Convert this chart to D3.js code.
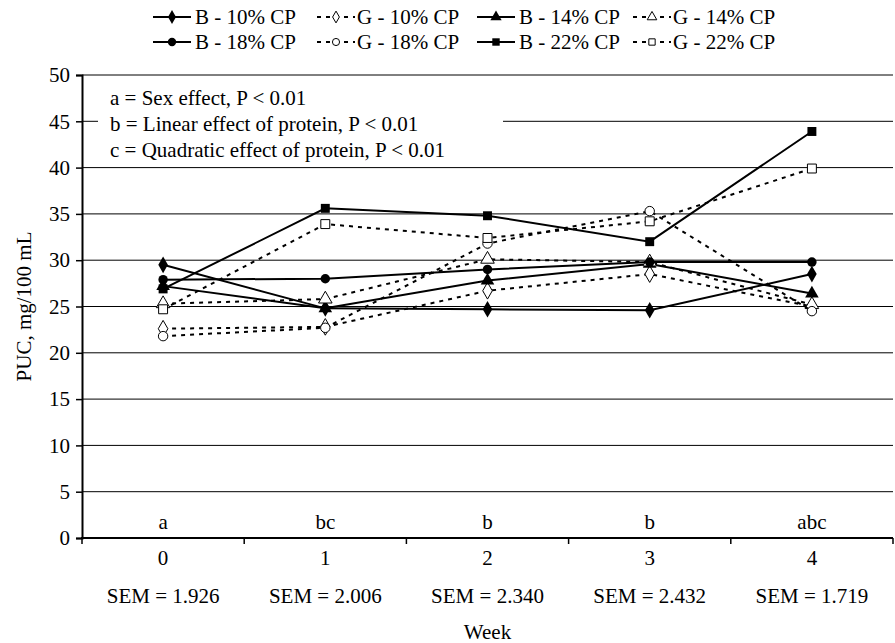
<!DOCTYPE html>
<html>
<head>
<meta charset="utf-8">
<script src="https://cdn.jsdelivr.net/npm/d3@7"></script>
<style>
  body { margin: 0; background: #fff; }
  svg { display: block; }
  text { font-family: "Liberation Serif", "DejaVu Serif", serif; fill: #000; }
</style>
</head>
<body>
<svg id="chart" width="895" height="643"></svg>
<script>
// week categories and labels under the axis
const weeks = ["0", "1", "2", "3", "4"];
const effectLabels = ["a", "bc", "b", "b", "abc"];
const semLabels = ["SEM = 1.926", "SEM = 2.006", "SEM = 2.340", "SEM = 2.432", "SEM = 1.719"];
const yTicks = [0, 5, 10, 15, 20, 25, 30, 35, 40, 45, 50];
const notes = [
  "a = Sex effect, P < 0.01",
  "b = Linear effect of protein, P < 0.01",
  "c = Quadratic effect of protein, P < 0.01"
];

// PUC values, mg/100 mL
const b10 = [29.5, 24.8, 24.7, 24.6, 28.5];
const g10 = [22.6, 22.8, 26.7, 28.5, 25.0];
const b14 = [27.2, 24.8, 27.8, 29.6, 26.4];
const g14 = [25.3, 25.8, 30.1, 29.8, 25.2];
const b18 = [27.9, 28.0, 29.0, 29.8, 29.8];
const g18 = [21.8, 22.7, 31.8, 35.3, 24.5];
const b22 = [26.9, 35.6, 34.8, 32.0, 43.9];
const g22 = [24.7, 33.9, 32.4, 34.2, 39.9];

const series = [
  { name: "B - 10% CP", values: b10, shape: d3.symbolDiamond, boy: true },
  { name: "G - 10% CP", values: g10, shape: d3.symbolDiamond, boy: false },
  { name: "B - 14% CP", values: b14, shape: d3.symbolTriangle, boy: true },
  { name: "G - 14% CP", values: g14, shape: d3.symbolTriangle, boy: false },
  { name: "B - 18% CP", values: b18, shape: d3.symbolCircle, boy: true },
  { name: "G - 18% CP", values: g18, shape: d3.symbolCircle, boy: false },
  { name: "B - 22% CP", values: b22, shape: d3.symbolSquare, boy: true },
  { name: "G - 22% CP", values: g22, shape: d3.symbolSquare, boy: false }
];

const svg = d3.select("#chart");
let mLeft = 82, mRight = 893, mTop = 75, mBottom = 538;
let fs = 21;

let x = d3.scaleBand().domain(weeks).range([mLeft, mRight]);
let y = d3.scaleLinear().domain([0, 50]).range([mBottom, mTop]);

// gridlines
svg.append("g")
  .selectAll("line")
  .data(yTicks.filter((d) => d > 0))
  .enter()
  .append("line")
  .attr("x1", mLeft).attr("x2", mRight)
  .attr("y1", (d) => y(d)).attr("y2", (d) => y(d))
  .attr("stroke", "#000").attr("stroke-width", 1);

// note box covers the gridline behind it
svg.append("rect")
  .attr("x", 98).attr("y", 80).attr("width", 405).attr("height", 82)
  .attr("fill", "#fff");
svg.append("g")
  .selectAll("text")
  .data(notes)
  .enter()
  .append("text")
  .attr("x", 110)
  .attr("y", (d, i) => 105 + i * 26)
  .attr("font-size", fs)
  .text((d) => d);

// y axis
let yAxis = d3.axisLeft(y).tickValues(yTicks).tickSize(6).tickPadding(6);
let gy = svg.append("g").attr("transform", `translate(${mLeft},0)`).call(yAxis);
gy.select(".domain").attr("stroke-width", 2);
gy.selectAll(".tick line").attr("stroke-width", 1.5);
gy.selectAll("text").attr("font-size", fs).attr("font-family", "Liberation Serif");

// x axis: ticks sit between the weeks
svg.append("line")
  .attr("x1", mLeft - 1).attr("x2", mRight)
  .attr("y1", mBottom).attr("y2", mBottom)
  .attr("stroke", "#000").attr("stroke-width", 2);
svg.append("g")
  .selectAll("line")
  .data(d3.range(weeks.length + 1))
  .enter()
  .append("line")
  .attr("x1", (i) => mLeft + i * x.step()).attr("x2", (i) => mLeft + i * x.step())
  .attr("y1", mBottom).attr("y2", mBottom + 6)
  .attr("stroke", "#000").attr("stroke-width", 1.5);

let cx = (w) => x(w) + x.bandwidth() / 2;

svg.append("g").selectAll("text").data(weeks).enter().append("text")
  .attr("x", cx).attr("y", 565).attr("text-anchor", "middle").attr("font-size", fs)
  .text((d) => d);
svg.append("g").selectAll("text").data(effectLabels).enter().append("text")
  .attr("x", (d, i) => cx(weeks[i])).attr("y", 529).attr("text-anchor", "middle").attr("font-size", fs)
  .text((d) => d);
svg.append("g").selectAll("text").data(semLabels).enter().append("text")
  .attr("x", (d, i) => cx(weeks[i])).attr("y", 603).attr("text-anchor", "middle").attr("font-size", fs)
  .text((d) => d);

svg.append("text")
  .attr("x", (mLeft + mRight) / 2).attr("y", 639).attr("text-anchor", "middle").attr("font-size", fs)
  .text("Week");
svg.append("text")
  .attr("transform", `translate(31,${(mTop + mBottom) / 2}) rotate(-90)`)
  .attr("text-anchor", "middle").attr("font-size", fs)
  .text("PUC, mg/100 mL");

// series
let line = d3.line().x((d, i) => cx(weeks[i])).y((d) => y(d));

series.forEach((s) => {
  svg.append("path")
    .attr("d", line(s.values))
    .attr("fill", "none")
    .attr("stroke", "#000")
    .attr("stroke-width", 2)
    .attr("stroke-dasharray", s.boy ? null : "4,5");
  svg.append("g")
    .selectAll("path")
    .data(s.values)
    .enter()
    .append("path")
    .attr("transform", (d, i) => `translate(${cx(weeks[i])},${y(d)})`)
    .attr("d", d3.symbol().type(s.shape).size(s.shape === d3.symbolCircle ? 70 : 80))
    .attr("fill", s.boy ? "#000" : "#fff")
    .attr("stroke", "#000")
    .attr("stroke-width", s.boy ? 0 : 1);
});

// legend: two rows of four
let legX = [153, 317, 477, 633];
let legend = svg.append("g");
series.forEach((s, i) => {
  let gx = legX[i % 4], gyy = i < 4 ? 17 : 42;
  let g = legend.append("g").attr("transform", `translate(${gx},${gyy})`);
  g.append("line")
    .attr("x1", 0).attr("x2", 38).attr("y1", 0).attr("y2", 0)
    .attr("stroke", "#000").attr("stroke-width", 2)
    .attr("stroke-dasharray", s.boy ? null : "4,5");
  g.append("path")
    .attr("transform", "translate(19,0)")
    .attr("d", d3.symbol().type(s.shape).size(s.boy ? 55 : 40))
    .attr("fill", s.boy ? "#000" : "#fff")
    .attr("stroke", "#000").attr("stroke-width", s.boy ? 0 : 1);
  g.append("text")
    .attr("x", s.boy ? 42 : 40).attr("y", 7).attr("font-size", fs)
    .text(s.name);
});
</script>
</body>
</html>
